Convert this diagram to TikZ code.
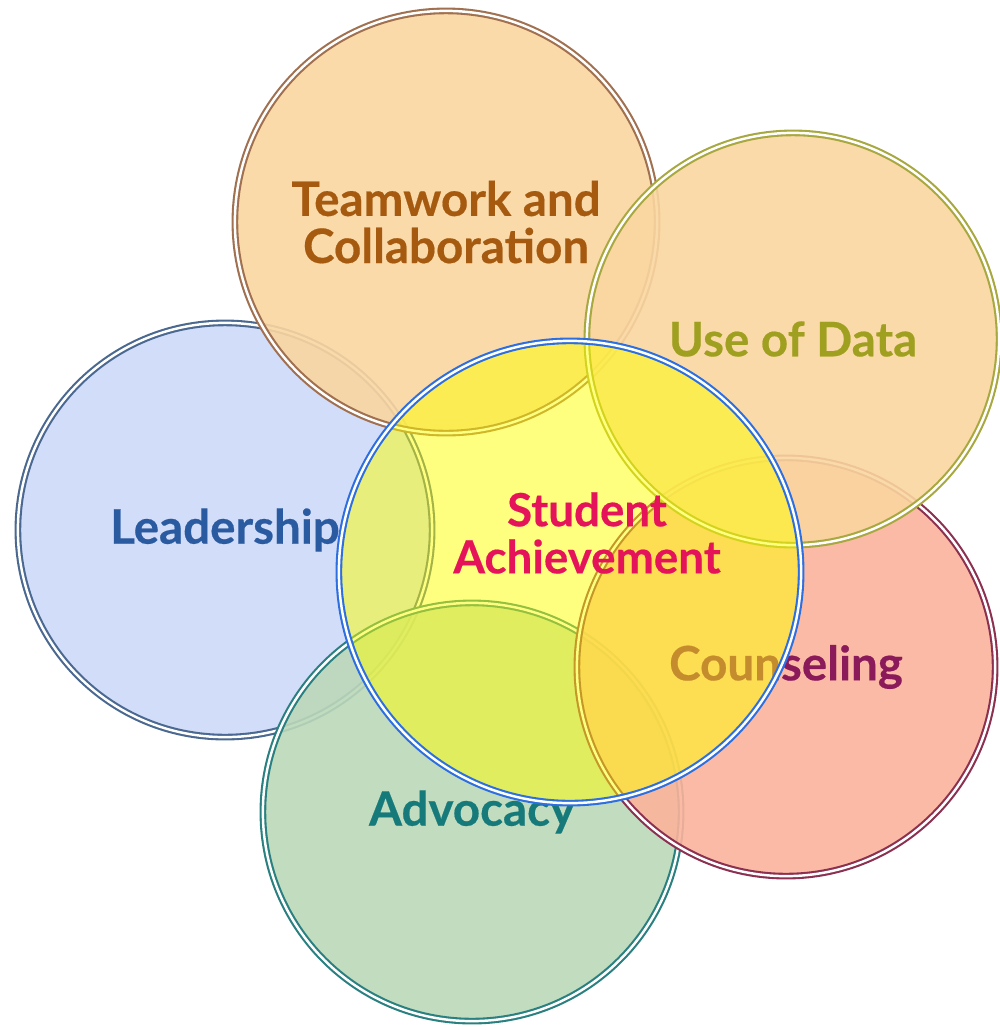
\documentclass[tikz,border=0pt]{standalone}
\usepackage{fontspec}
\setsansfont{Lato}[BoldFeatures={FakeBold=0.4}]

\definecolor{leadfill}{HTML}{CDD9F9}
\definecolor{leadline}{HTML}{4A6890}
\definecolor{leadtext}{HTML}{2A5AA0}
\definecolor{advfill}{HTML}{BBD8B9}
\definecolor{advline}{HTML}{2A8080}
\definecolor{advtext}{HTML}{167A7A}
\definecolor{counfill}{HTML}{FBB39B}
\definecolor{counline}{HTML}{8B3050}
\definecolor{countext}{HTML}{8A1A5A}
\definecolor{teamfill}{HTML}{FAD6A0}
\definecolor{teamline}{HTML}{A07050}
\definecolor{teamtext}{HTML}{A65A10}
\definecolor{datafill}{HTML}{FAD6A0}
\definecolor{dataline}{HTML}{A8A840}
\definecolor{datatext}{HTML}{A0A020}
\definecolor{hubfill}{HTML}{FFFF00}
\definecolor{hubline}{HTML}{2E6FE0}
\definecolor{hubtext}{HTML}{E5145A}

\begin{document}
\begin{tikzpicture}[x=0.01cm,y=-0.01cm,
                    ring/.style={circle,draw,double=white,double distance=0.7pt,line width=0.6pt,
                                 inner sep=0pt,fill opacity=0.9,text opacity=1,align=center,
                                 font=\sffamily\bfseries\fontsize{13.5}{13.4}\selectfont}]
  \useasboundingbox (0,0) rectangle (1000,1030);

  \node[ring,draw=leadline,fill=leadfill,text=leadtext,minimum size=4.14cm] (1) at (225,530) {Leadership};
  \node[ring,draw=advline,fill=advfill,text=advtext,minimum size=4.18cm] (2) at (472,812) {Advocacy};
  \node[ring,draw=counline,fill=counfill,text=countext,minimum size=4.18cm] (3) at (786,667) {Counseling};
  \node[ring,draw=teamline,fill=teamfill,text=teamtext,minimum size=4.22cm] (4) at (446,222) {Teamwork and\\Collaboration};
  \node[ring,draw=dataline,fill=datafill,text=datatext,minimum size=4.12cm] (5) at (793,339) {Use of Data};

  \node[ring,draw=hubline,fill=hubfill,fill opacity=0.5,minimum size=4.62cm] (6) at (570,572) {};
  \node[text=hubtext,align=center,font=\sffamily\bfseries\fontsize{13}{13.4}\selectfont] (7) at (587,533) {Student\\Achievement};
\end{tikzpicture}
\end{document}
